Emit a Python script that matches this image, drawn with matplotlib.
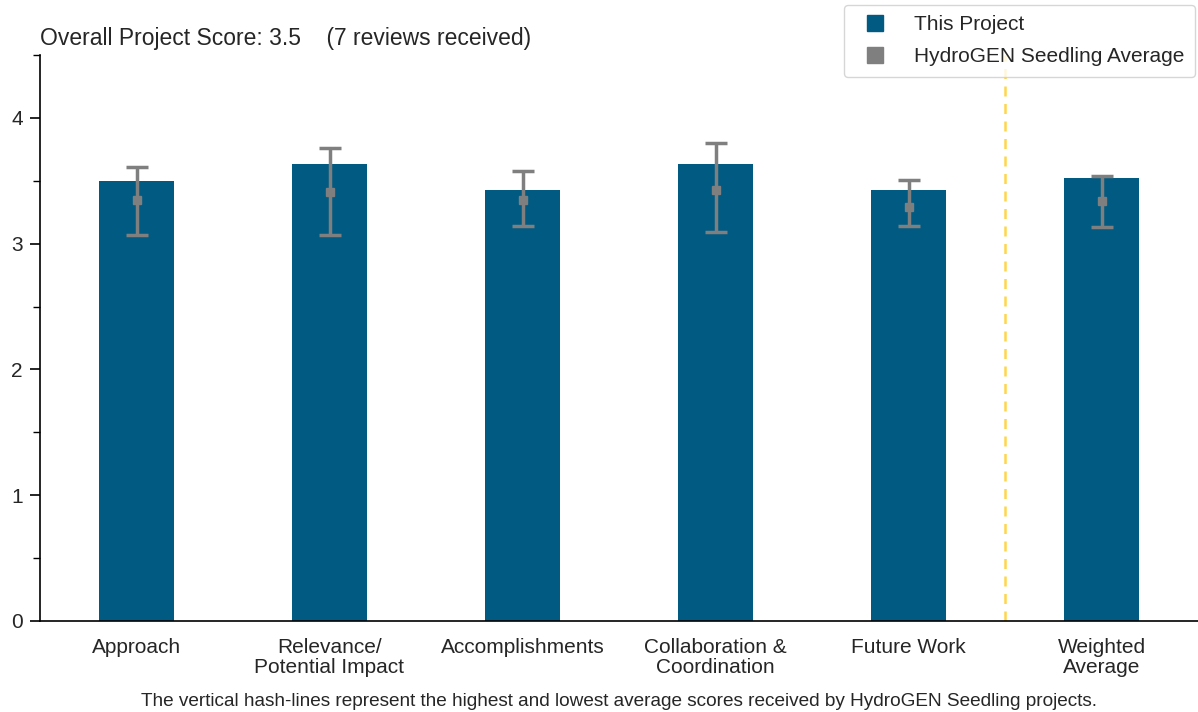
import matplotlib
matplotlib.use("Agg")
import matplotlib.pyplot as plt
from matplotlib.lines import Line2D
from matplotlib.ticker import MultipleLocator

plt.rcParams['font.family'] = ['Liberation Sans', 'DejaVu Sans']

categories = ["Approach", "Relevance/\nPotential Impact", "Accomplishments",
              "Collaboration &\nCoordination", "Future Work", "Weighted\nAverage"]
project_scores = [3.50, 3.63, 3.43, 3.63, 3.43, 3.52]
seedling_avg = [3.35, 3.41, 3.35, 3.43, 3.29, 3.34]
seedling_high = [3.61, 3.76, 3.58, 3.80, 3.51, 3.54]
seedling_low = [3.07, 3.07, 3.14, 3.09, 3.14, 3.13]

bar_color = "#005A82"
gray = "#7F7F7F"
text_color = "#262626"

fig = plt.figure(figsize=(11.98, 7.12), dpi=100)
ax = fig.add_axes([40/1198, 91/712, 1 - 40/1198, (621-55)/712])

x = list(range(len(categories)))
ax.bar(x, project_scores, width=0.39, color=bar_color, zorder=2)
yerr_low = [a - l for a, l in zip(seedling_avg, seedling_low)]
yerr_high = [h - a for a, h in zip(seedling_avg, seedling_high)]
ax.errorbar(x, seedling_avg, yerr=[yerr_low, yerr_high], fmt='s', color=gray,
            ecolor=gray, elinewidth=2.5, capsize=8, capthick=2.5, markersize=6, zorder=3)

ax.axvline(4.5, color="#FFD54A", linestyle=(0, (4, 3)), linewidth=1.8, zorder=1)

ax.set_xlim(-0.5, 5.5)
ax.set_ylim(0, 4.5)
ax.set_xticks(x)
ax.set_xticklabels(categories, fontsize=15, linespacing=1.1, color=text_color)
ax.yaxis.set_major_locator(MultipleLocator(1))
ax.yaxis.set_minor_locator(MultipleLocator(0.5))
ax.tick_params(axis='y', labelsize=15, length=7.5, width=1.2, pad=5, labelcolor=text_color)
ax.tick_params(axis='y', which='minor', length=5, width=1.0)
ax.tick_params(axis='x', length=0, pad=12)
ax.spines['top'].set_visible(False)
ax.spines['right'].set_visible(False)
ax.spines['left'].set_linewidth(1.2)
ax.spines['bottom'].set_linewidth(1.2)

fig.text(40/1198, 1 - 38/712, "Overall Project Score: 3.5    (7 reviews received)",
         fontsize=16.5, ha='left', va='center', color=text_color)
fig.text((40 + 1198) / 2 / 1198, 1 - 702/712,
         "The vertical hash-lines represent the highest and lowest average scores received by HydroGEN Seedling projects.",
         fontsize=13.7, ha='center', va='center', color=text_color)

handles = [Line2D([], [], marker='s', linestyle='none', color=bar_color, markersize=11),
           Line2D([], [], marker='s', linestyle='none', color=gray, markersize=11)]
leg = fig.legend(handles, ["This Project", "HydroGEN Seedling Average"], loc='upper right',
                 bbox_to_anchor=(1 - 3/1198, 1 - 5/712), borderaxespad=0, fontsize=15,
                 handletextpad=0.87, borderpad=0.5, labelspacing=0.62, labelcolor=text_color)

fig.savefig("out.png", dpi=100)
